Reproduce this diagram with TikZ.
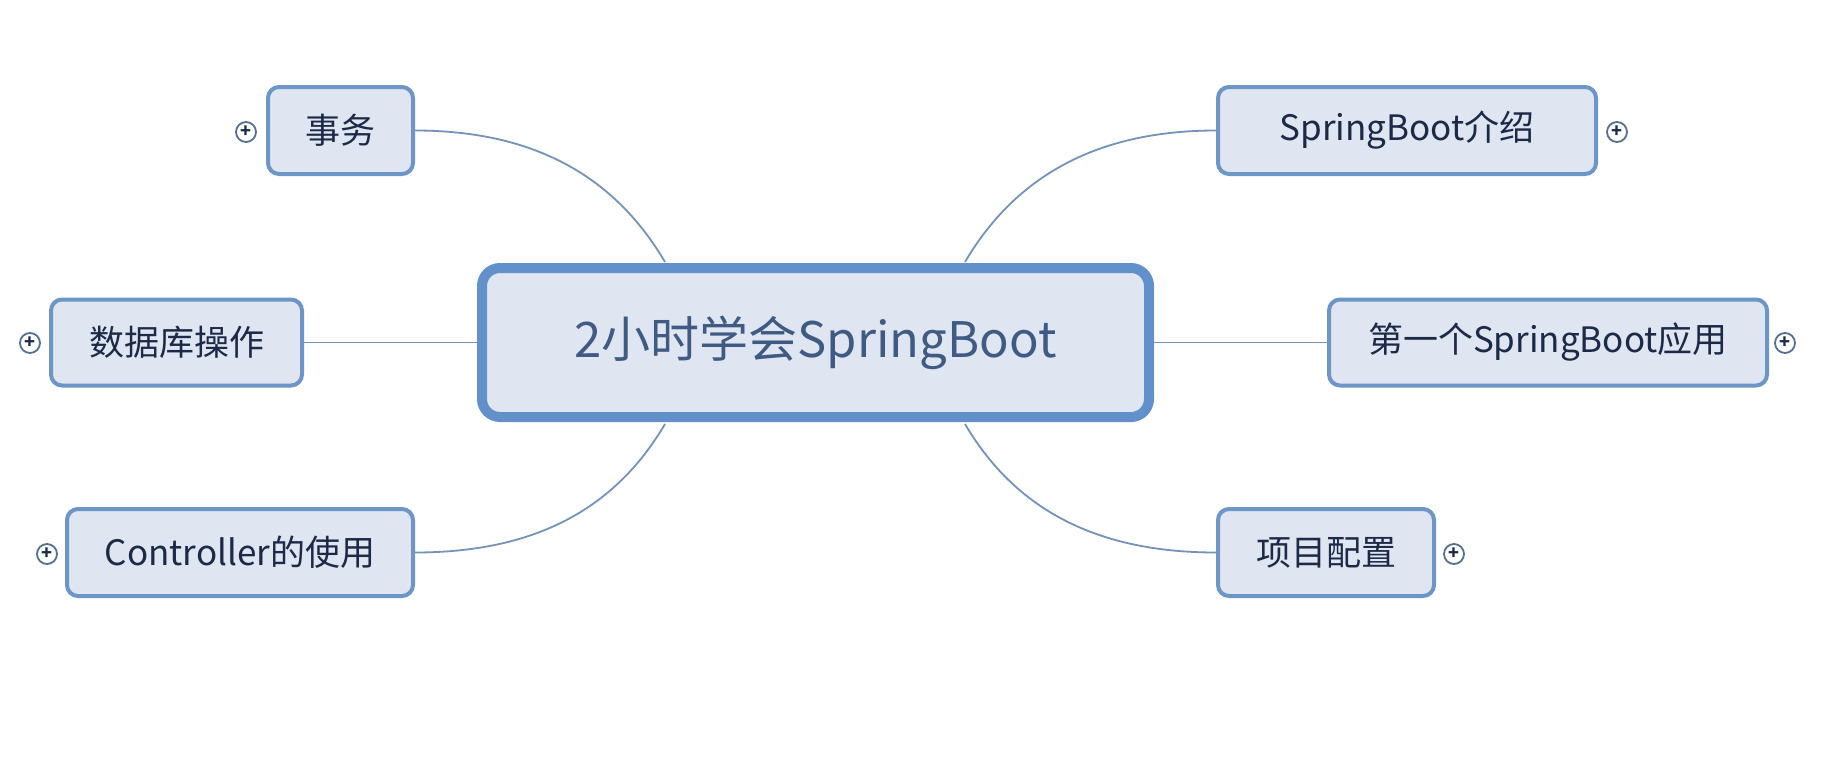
\documentclass[tikz,border=0pt]{standalone}
\usepackage{fontspec}
\setmainfont{Noto Sans CJK SC}
\definecolor{boxfill}{HTML}{DFE6F1}
\definecolor{boxline}{HTML}{6D95C6}
\definecolor{mainline}{HTML}{6290CA}
\definecolor{linkline}{HTML}{7592B8}
\definecolor{childtext}{HTML}{1C2A48}
\definecolor{maintext}{HTML}{3F5B84}
\definecolor{plusline}{HTML}{55708F}
\tikzset{
  childbox/.style={draw=boxline, line width=4pt, fill=boxfill, rounded corners=11pt,
    inner sep=0pt, text=childtext, font=\fontsize{35}{35}\selectfont},
  mainbox/.style={draw=mainline, line width=10pt, fill=boxfill, rounded corners=18pt,
    inner sep=0pt, text=maintext, font=\fontsize{49}{49}\selectfont},
  link/.style={draw=linkline, line width=1.8pt},
  plusmark/.style={circle, draw=plusline, line width=1.8pt, fill=white, minimum size=20pt,
    inner sep=0pt, text=childtext, font=\fontsize{18}{18}\selectfont\bfseries}
}
\begin{document}
\begin{tikzpicture}[x=1pt,y=-1pt]
\useasboundingbox (0,0) rectangle (1828,760);
\fill[white] (0,0) rectangle (1828,760);
\coordinate (tl) at (665,262);
\coordinate (tr) at (965,262);
\coordinate (bl) at (665,424);
\coordinate (br) at (965,424);
% boxes
\node[mainbox, minimum width=667pt, minimum height=149pt] (c) at (815.5,342.5) {2小时学会SpringBoot};
\node[childbox, minimum width=145pt, minimum height=87pt] (sw) at (340.5,130.5) {事务};
\node[childbox, minimum width=378pt, minimum height=87pt] (intro) at (1407,130.5) {SpringBoot介绍};
\node[childbox, minimum width=251pt, minimum height=86pt] (db) at (176.5,342.5) {数据库操作};
\node[childbox, minimum width=438pt, minimum height=86pt] (first) at (1548,342.5) {第一个SpringBoot应用};
\node[childbox, minimum width=346pt, minimum height=87pt] (ctrl) at (240,552.5) {Controller的使用};
\node[childbox, minimum width=216pt, minimum height=87pt] (cfg) at (1326,552.5) {项目配置};
% connectors
\draw[link] (tl) .. controls +(-50,-85) and +(120,0) .. (sw.east);
\draw[link] (tr) .. controls +(50,-85) and +(-120,0) .. (intro.west);
\draw[link] (bl) .. controls +(-50,85) and +(120,0) .. (ctrl.east);
\draw[link] (br) .. controls +(50,85) and +(-120,0) .. (cfg.west);
\draw[link] (c.west) -- (db.east);
\draw[link] (c.east) -- (first.west);
% plus markers
\node[plusmark] (p1) at (246,132) {+};
\node[plusmark] (p2) at (1617,132) {+};
\node[plusmark] (p3) at (30,343) {+};
\node[plusmark] (p4) at (1785,343) {+};
\node[plusmark] (p5) at (47,554) {+};
\node[plusmark] (p6) at (1454,554) {+};
\end{tikzpicture}
\end{document}
